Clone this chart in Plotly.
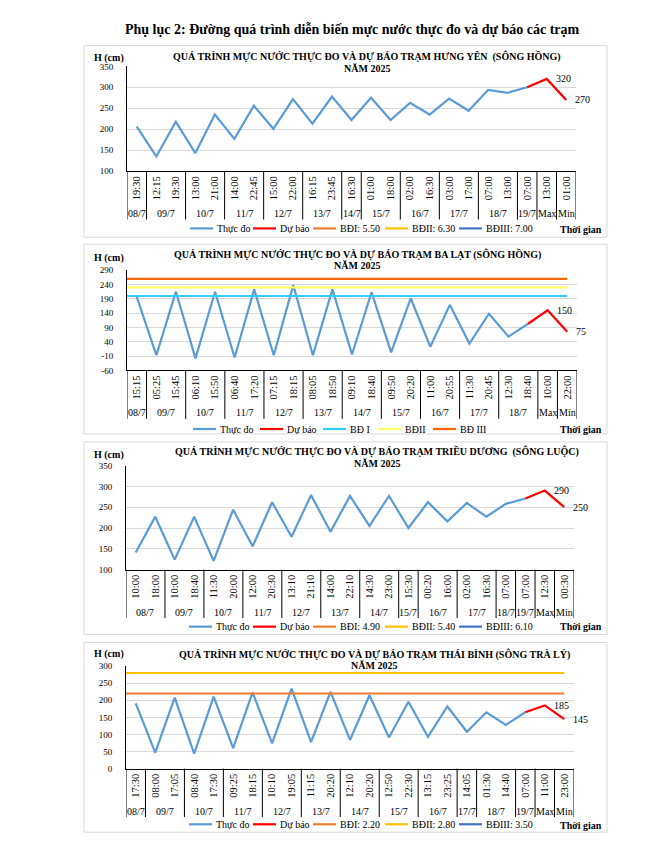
import plotly.graph_objects as go

W, H = 656, 861
OFF = 8  # page body margin of the viewer
FW, FH = W - 2 * OFF, H - 2 * OFF
FONT = "Liberation Serif"

# ---------------- data ----------------
# Panel 1: Hưng Yên (sông Hồng)
hy_dates = ["08/7", "09/7", "09/7", "10/7", "10/7", "11/7", "11/7", "12/7", "12/7", "13/7", "13/7",
            "14/7", "15/7", "15/7", "16/7", "16/7", "17/7", "17/7", "18/7", "18/7", "19/7", "Max", "Min"]
hy_times = ["19:30", "12:15", "19:30", "13:00", "21:00", "14:00", "22:45", "15:00", "22:00", "16:15", "23:45",
            "16:30", "01:00", "18:00", "02:00", "16:30", "03:00", "17:00", "07:00", "13:00", "07:00", "13:00", "01:00"]
hy_obs = [206, 135, 218, 143, 235, 177, 256, 201, 272, 213, 278, 222, 275, 222, 263, 235, 273, 244, 294, 287, 300]
hy_fc = [300, 320, 270]
hy_level_names = ["BĐI: 5.50", "BĐII: 6.30", "BĐIII: 7.00"]
hy_levels = [550, 630, 700]

# Panel 2: Ba Lạt (sông Hồng)
bl_dates = ["08/7", "09/7", "09/7", "10/7", "10/7", "11/7", "11/7", "12/7", "12/7", "13/7", "13/7",
            "14/7", "14/7", "15/7", "15/7", "16/7", "16/7", "17/7", "17/7", "18/7", "18/7", "Max", "Min"]
bl_times = ["15:15", "05:25", "15:45", "06:10", "15:50", "06:40", "17:20", "07:15", "18:15", "08:05", "18:50",
            "09:10", "18:40", "09:50", "20:20", "11:00", "20:55", "11:30", "20:45", "12:30", "18:40", "10:00", "22:00"]
bl_obs = [197, -7, 215, -18, 215, -15, 223, -7, 238, -7, 223, -4, 213, 3, 192, 23, 169, 34, 138, 58, 103]
bl_fc = [103, 150, 75]
bl_level_names = ["BĐ I", "BĐII", "BĐ III"]
bl_levels = [200, 230, 260]

# Panel 3: Triều Dương (sông Luộc)
td_dates = ["08/7", "08/7", "09/7", "09/7", "10/7", "10/7", "11/7", "11/7", "12/7", "12/7", "13/7", "13/7",
            "14/7", "14/7", "15/7", "16/7", "16/7", "17/7", "17/7", "18/7", "19/7", "Max", "Min"]
td_times = ["10:00", "18:00", "10:00", "18:40", "11:30", "20:00", "12:00", "20:30", "13:10", "21:10", "14:00",
            "22:10", "14:30", "23:00", "15:30", "00:20", "16:00", "02:00", "16:30", "07:00", "07:00", "12:30", "00:30"]
td_obs = [141, 227, 124, 227, 121, 244, 156, 262, 179, 279, 191, 277, 205, 277, 200, 262, 216, 260, 227, 258, 271]
td_fc = [271, 290, 250]
td_level_names = ["BĐI: 4.90", "BĐII: 5.40", "BĐIII: 6.10"]
td_levels = [490, 540, 610]

# Panel 4: Thái Bình (sông Trà Lý)
tb_dates = ["08/7", "09/7", "09/7", "10/7", "10/7", "11/7", "11/7", "12/7", "12/7", "13/7", "13/7",
            "14/7", "14/7", "15/7", "15/7", "16/7", "16/7", "17/7", "18/7", "18/7", "19/7", "Max", "Min"]
tb_times = ["17:30", "08:00", "17:05", "08:40", "17:30", "09:25", "18:15", "10:10", "19:05", "11:15", "20:20",
            "12:10", "20:20", "12:50", "22:30", "13:15", "23:25", "14:05", "01:30", "14:40", "07:00", "11:00", "23:00"]
tb_obs = [191, 47, 208, 44, 211, 60, 223, 74, 234, 78, 225, 84, 215, 91, 196, 93, 182, 108, 165, 128, 165]
tb_fc = [165, 185, 145]
tb_level_names = ["BĐI: 2.20", "BĐII: 2.80", "BĐIII: 3.50"]
tb_levels = [220, 280, 350]

# ---------------- styling / layout ----------------
BLUE = "#5B9BD5"
RED = "#FF0000"
STD_COLS = ["#ED7D31", "#FFC000", "#4472C4"]
BL_COLS = ["#33CCFF", "#FFFF66", "#FF6600"]

panels = [
    dict(title="QUÁ TRÌNH MỰC NƯỚC THỰC ĐO VÀ DỰ BÁO TRẠM HƯNG YÊN  (SÔNG HỒNG)",
         dates=hy_dates, times=hy_times, obs=hy_obs, fc=hy_fc,
         lnames=hy_level_names, levels=hy_levels, lcols=STD_COLS,
         yr=[100, 350],
         box=(41, 235), plot=(127, 576, 62, 168), tx=367, ty=(52, 64), hy=54,
         legy=226, legx=[215, 278, 338, 410, 484], tgy=227),
    dict(title="QUÁ TRÌNH MỰC NƯỚC THỰC ĐO VÀ DỰ BÁO TRẠM BA LẠT (SÔNG HỒNG)",
         dates=bl_dates, times=bl_times, obs=bl_obs, fc=bl_fc,
         lnames=bl_level_names, levels=bl_levels, lcols=BL_COLS,
         yr=[-60, 290],
         box=(242, 434), plot=(127, 577, 268.3, 369.7), tx=357, ty=(252, 263.5), hy=256,
         legy=429, legx=[218, 285, 348, 403, 458], tgy=429),
    dict(title="QUÁ TRÌNH MỰC NƯỚC THỰC ĐO VÀ DỰ BÁO TRẠM TRIỀU DƯƠNG  (SÔNG LUỘC)",
         dates=td_dates, times=td_times, obs=td_obs, fc=td_fc,
         lnames=td_level_names, levels=td_levels, lcols=STD_COLS,
         yr=[100, 350],
         box=(442, 637), plot=(126, 574, 466, 571.3), tx=377, ty=(452, 464), hy=455.5,
         legy=629, legx=[214, 278, 338, 410, 484], tgy=628.5),
    dict(title="QUÁ TRÌNH MỰC NƯỚC THỰC ĐO VÀ DỰ BÁO TRẠM THÁI BÌNH (SÔNG TRÀ LÝ)",
         dates=tb_dates, times=tb_times, obs=tb_obs, fc=tb_fc,
         lnames=tb_level_names, levels=tb_levels, lcols=STD_COLS,
         yr=[0, 300],
         box=(645, 837), plot=(126, 574, 669, 772.7), tx=374, ty=(657, 668.5), hy=657,
         legy=829, legx=[214, 278, 338, 410, 484], tgy=830),
]


def px(x):
    return (x - OFF) / FW


def py(y):
    return 1 - (y - OFF) / FH


fig = go.Figure()
shapes = []
annotations = []

annotations.append(dict(
    text="<b>Phụ lục 2: Đường quá trình diễn biến mực nước thực đo và dự báo các trạm</b>",
    x=px(352), y=py(25), xref="paper", yref="paper", showarrow=False,
    xanchor="center", yanchor="middle", font=dict(family=FONT, size=14, color="black")))

for i, p in enumerate(panels, 1):
    xa = "x" if i == 1 else f"x{i}"
    ya = "y" if i == 1 else f"y{i}"
    xk = "xaxis" if i == 1 else f"xaxis{i}"
    yk = "yaxis" if i == 1 else f"yaxis{i}"
    n = len(p["times"])
    idx = list(range(n))
    nobs = len(p["obs"])
    L, R, T, B = p["plot"]

    # observed
    fig.add_trace(go.Scatter(x=idx[:nobs], y=p["obs"], mode="lines",
                             line=dict(color=BLUE, width=2.2), xaxis=xa, yaxis=ya,
                             name="Thực đo"))
    # forecast
    fc_x = idx[nobs - 1:]
    fig.add_trace(go.Scatter(x=fc_x, y=p["fc"], mode="lines",
                             line=dict(color=RED, width=2.2), xaxis=xa, yaxis=ya,
                             name="Dự báo"))
    for xv, yv in zip(fc_x[1:], p["fc"][1:]):
        annotations.append(dict(text=str(yv), x=xv, y=yv, xref=xa, yref=ya, showarrow=False,
                                xanchor="left", yanchor="middle", xshift=7,
                                font=dict(family=FONT, size=10, color="black")))
    # alarm levels
    for nm, lv, col in zip(p["lnames"], p["levels"], p["lcols"]):
        fig.add_trace(go.Scatter(x=[-0.5, n - 1], y=[lv, lv], mode="lines",
                                 line=dict(color=col, width=2.2), xaxis=xa, yaxis=ya,
                                 name=nm, hoverinfo="skip"))

    ytv = list(range(p["yr"][0], p["yr"][1] + 1, 50))
    fig.layout[xk] = dict(domain=[px(L), px(R)], anchor=ya, range=[-0.5, n - 0.5],
                          tickmode="array", tickvals=idx, ticktext=p["times"], tickangle=-90,
                          tickfont=dict(family=FONT, size=10.5, color="black"),
                          showline=True, linecolor="black", linewidth=1,
                          showgrid=False, zeroline=False, ticks="", fixedrange=True)
    fig.layout[yk] = dict(domain=[py(B), py(T)], anchor=xa, range=p["yr"],
                          tickmode="array", tickvals=ytv, ticktext=[str(v) for v in ytv],
                          tickfont=dict(family=FONT, size=9, color="black"),
                          showline=True, linecolor="black", linewidth=1,
                          showgrid=True, gridcolor="#D9D9D9", gridwidth=1,
                          zeroline=False, ticks="", ticklabelstandoff=11, fixedrange=True)

    # chart box
    shapes.append(dict(type="rect", xref="paper", yref="paper",
                       x0=px(84), x1=px(607), y0=py(p["box"][1]), y1=py(p["box"][0]),
                       line=dict(color="#D9D9D9", width=1), fillcolor="rgba(0,0,0,0)", layer="below"))

    # date groups and dividers
    bounds = [-0.5]
    groups = []
    start = 0
    for j in range(1, n + 1):
        if j == n or p["dates"][j] != p["dates"][j - 1]:
            groups.append((p["dates"][start], (start + j - 1) / 2))
            bounds.append(j - 0.5)
            start = j
    for b in bounds:
        shapes.append(dict(type="line", xref=xa, yref="paper", x0=b, x1=b,
                           y0=py(B), y1=py(B + 49), line=dict(color="black", width=1)))
    for label, c in groups:
        annotations.append(dict(text=label, x=c, y=py(B + 43), xref=xa, yref="paper",
                                showarrow=False, xanchor="center", yanchor="middle",
                                font=dict(family=FONT, size=10, color="black")))

    # titles
    annotations.append(dict(text=f"<b>{p['title']}</b>", x=px(p["tx"]), y=py(p["ty"][0]),
                            xref="paper", yref="paper", showarrow=False, xanchor="center",
                            yanchor="middle", font=dict(family=FONT, size=10, color="black")))
    annotations.append(dict(text="<b>NĂM 2025</b>", x=px(p["tx"]), y=py(p["ty"][1]),
                            xref="paper", yref="paper", showarrow=False, xanchor="center",
                            yanchor="middle", font=dict(family=FONT, size=10, color="black")))
    annotations.append(dict(text="<b>H (cm)</b>", x=px(92), y=py(p["hy"]),
                            xref="paper", yref="paper", showarrow=False, xanchor="left",
                            yanchor="middle", font=dict(family=FONT, size=10, color="black")))
    annotations.append(dict(text="<b>Thời gian</b>", x=px(604), y=py(p["tgy"]),
                            xref="paper", yref="paper", showarrow=False, xanchor="right",
                            yanchor="middle", font=dict(family=FONT, size=10, color="black")))

    # legend (manual)
    leg_names = ["Thực đo", "Dự báo"] + p["lnames"]
    leg_cols = [BLUE, RED] + p["lcols"]
    for nm, col, tx in zip(leg_names, leg_cols, p["legx"]):
        shapes.append(dict(type="line", xref="paper", yref="paper", x0=px(tx - 25), x1=px(tx - 2),
                           y0=py(p["legy"]), y1=py(p["legy"]), line=dict(color=col, width=2.2)))
        annotations.append(dict(text=nm, x=px(tx), y=py(p["legy"]), xref="paper", yref="paper",
                                showarrow=False, xanchor="left", yanchor="middle",
                                font=dict(family=FONT, size=10, color="black")))

fig.update_layout(width=FW, height=FH, margin=dict(l=0, r=0, t=0, b=0),
                  paper_bgcolor="white", plot_bgcolor="white", showlegend=False,
                  shapes=shapes, annotations=annotations,
                  font=dict(family=FONT, color="black"))

fig.write_html("out.html")
